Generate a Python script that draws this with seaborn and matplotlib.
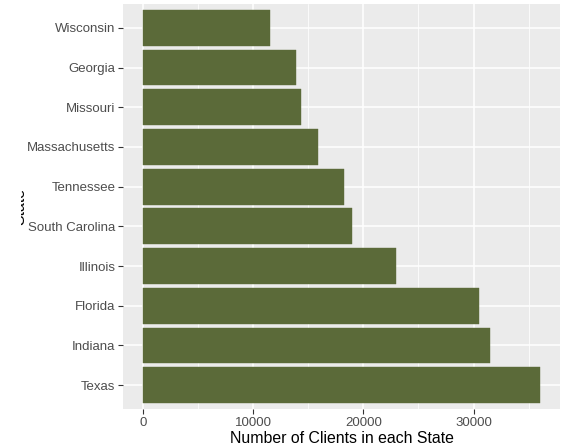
import matplotlib
matplotlib.use("Agg")
import matplotlib.pyplot as plt
import matplotlib.patches as mpatches
import seaborn as sns
import pandas as pd
from matplotlib.ticker import MultipleLocator

# dados
states = ["Wisconsin", "Georgia", "Missouri", "Massachusetts", "Tennessee",
          "South Carolina", "Illinois", "Florida", "Indiana", "Texas"]
clients = [11560, 13920, 14370, 15910, 18270, 18990, 22980, 30510, 31500, 36040]

df = pd.DataFrame({"State": states, "Clients": clients})

sns.set_theme(style="darkgrid")
plt.rcParams['font.family'] = ['Liberation Sans', 'DejaVu Sans']

fig = plt.figure(figsize=(5.67, 4.48), dpi=100)
ax = fig.add_axes([123 / 567, 1 - 409 / 448, 437 / 567, 405 / 448])
ax.set_facecolor("#EBEBEB")

bar_color = "#5b6a39"
sns.barplot(data=df, x="Clients", y="State", order=states, orient="h",
            color=bar_color, saturation=1, width=0.9, ax=ax, zorder=3,
            edgecolor=bar_color, linewidth=0.3)

xmax = max(clients)
ax.set_xlim(-0.05 * xmax, 1.05 * xmax)
ax.set_ylim(len(states) - 0.4, -0.6)

ax.xaxis.set_major_locator(MultipleLocator(10000))
ax.xaxis.set_minor_locator(MultipleLocator(5000))
ax.grid(which="major", color="white", linewidth=1.1, zorder=0)
ax.grid(which="minor", axis="x", color="white", linewidth=0.55, zorder=0)
ax.set_axisbelow(True)

for s in ax.spines.values():
    s.set_visible(False)

ax.tick_params(axis="both", which="major", length=3.5, width=0.8, color="#333333",
               labelcolor="#4d4d4d", labelsize=9.5, pad=2, bottom=True, left=True)
ax.tick_params(axis="both", which="minor", length=0)

ax.set_xlabel("Number of Clients in each State", fontsize=11.4, color="black", labelpad=2)
ax.set_ylabel("")

# titulo do eixo y aparece cortado na referencia
fig.text(20 / 567, 1 - 206 / 448, "State", rotation=90, va="center", ha="center",
         fontsize=11.4, color="black")
fig.patches.append(mpatches.Rectangle((0, 0), 21 / 567, 1, transform=fig.transFigure,
                                      facecolor="white", edgecolor="none", zorder=10))

fig.savefig("out.png", dpi=100)
